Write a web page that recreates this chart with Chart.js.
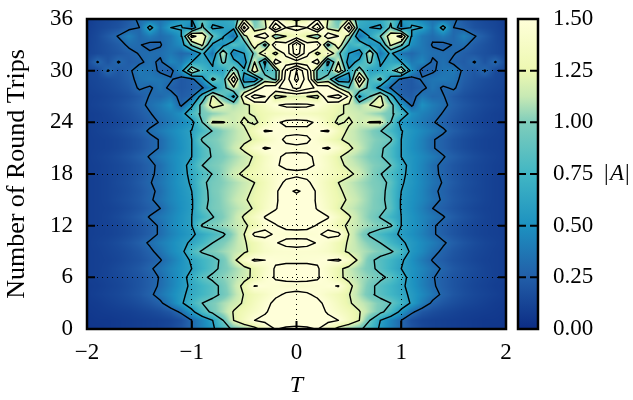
<!DOCTYPE html>
<html><head><meta charset="utf-8">
<style>html,body{margin:0;padding:0;background:#fff}canvas{position:absolute;top:0}</style>
<script src="https://cdn.jsdelivr.net/npm/chart.js@4/dist/chart.umd.min.js"></script>
</head><body>
<canvas id="heat" width="520" height="400" style="left:0"></canvas>
<canvas id="bar" width="123" height="400" style="left:510px"></canvas>
<script>
const tColumns=[0,.1,.2,.3,.4,.5,.6,.7,.8,.9,1,1.1,1.2,1.3,1.4,1.5,1.6,1.7,1.8,1.9,2];
const tripRows=[0,1,2,3,4,5,6,7,8,9,10,11,12,13,14,15,16,17,18,19,20,21,22,23,24,25,26,27,28,29,30,31,32,33,34,35,36];
// |A| x 100, one row per round trip, columns for |T| = 0 ... 2
const ampCenti=[
[145,147,151,135,112,103,95,78,56,42,30,20,14,11,10,9,8,7,6,5,5],
[160,160,158,155,150,135,120,90,60,44,30,18,13,11,10,9,8,7,6,6,5],
[165,163,157,148,139,130,121,108,96,78,54,33,22,17,14,12,10,9,8,7,6],
[165,160,154,145,134,122,114,107,98,90,74,57,41,27,21,17,14,12,10,8,7],
[155,152,147,138,130,121,108,94,84,75,66,56,46,36,27,21,17,14,12,10,8],
[142,143,145,147,151,125,110,96,83,74,64,53,42,32,25,20,16,13,11,9,8],
[158,156,152,143,124,115,108,102,95,85,68,52,42,31,25,20,17,14,12,10,9],
[158,156,152,139,125,113,105,96,84,72,60,52,44,35,28,22,18,15,12,10,9],
[145,146,147,150,153,140,114,95,83,74,63,50,39,29,24,19,16,13,11,10,9],
[144,144,143,139,128,116,111,105,99,93,78,54,46,35,27,21,17,14,12,10,9],
[156,154,149,141,128,118,108,99,90,75,63,55,47,40,32,25,20,16,13,11,9],
[144,145,147,156,156,120,104,87,77,66,57,50,42,32,25,20,16,13,11,10,9],
[156,154,149,144,126,117,111,105,99,93,60,52,44,32,25,20,16,13,11,10,9],
[160,158,155,151,136,122,110,100,89,74,60,52,44,37,31,24,19,15,12,10,9],
[160,157,149,137,122,114,108,102,96,85,58,50,41,30,25,20,16,13,11,10,9],
[165,160,147,135,125,118,111,103,95,83,58,51,44,35,28,22,18,15,12,10,9],
[184,172,144,133,123,115,109,103,97,82,60,52,44,33,27,21,17,14,12,10,9],
[158,153,143,131,120,113,107,101,96,86,62,54,45,36,29,23,18,15,12,10,9],
[146,145,143,137,131,124,115,104,91,79,65,53,44,34,27,21,17,14,12,10,9],
[156,154,148,138,125,116,110,103,97,90,67,53,44,33,27,21,17,14,12,10,9],
[155,153,147,136,122,113,106,99,92,80,60,53,46,39,31,25,20,16,13,11,9],
[145,146,148,152,142,124,113,103,94,80,60,50,42,31,26,20,16,13,11,10,9],
[158,153,144,133,122,116,110,104,98,93,60,51,42,31,26,20,16,13,11,10,9],
[144,146,149,152,132,116,109,102,91,76,61,53,46,39,32,25,20,16,13,11,9],
[156,154,147,129,116,123,114,121,122,90,52,45,38,31,26,20,16,13,11,10,9],
[135,135,132,128,122,118,114,108,102,95,78,50,42,36,29,23,18,15,12,10,9],
[155,154,148,135,125,115,108,120,128,100,55,27,50,40,33,26,21,17,14,12,10],
[120,120,112,180,195,145,55,90,125,72,28,24,38,30,31,23,18,15,13,11,10],
[220,190,175,165,120,90,115,80,50,28,25,22,26,36,28,32,22,18,15,13,11],
[250,195,85,105,40,45,170,75,95,50,25,22,32,36,38,35,25,20,17,14,12],
[240,185,85,75,140,65,105,60,62,80,115,50,24,28,35,38,27,22,31,15,13],
[135,130,170,50,120,45,70,95,58,65,60,38,45,27,34,27,24,31,20,31,14],
[230,160,110,150,95,60,40,115,35,65,35,30,38,33,32,31,25,21,18,15,12],
[240,160,180,80,140,70,85,50,55,125,95,48,38,29,26,31,33,24,19,15,11],
[130,120,95,175,150,110,32,62,90,135,160,55,38,32,40,30,42,31,23,15,10],
[160,150,210,110,100,190,65,60,55,95,40,62,60,38,68,30,26,19,16,13,9],
[110,130,150,120,90,120,70,65,70,85,60,55,42,35,32,34,22,17,14,12,8]];
const contourLevels=[.3,.6,.9,1.2,1.5,1.8,2.1,2.4];
const barStops=[0,.25,.5,.75,1,1.125,1.25,1.5];
const barColors=['#0c2c84','#225ea8','#1d91c0','#41b6c4','#7fcdbb','#c7e9b4','#edf8b1','#ffffd9'];
const xTicks=[-2,-1,0,1,2],yTicks=[0,6,12,18,24,30,36],barTicks=[0,.25,.5,.75,1,1.25,1.5];
const FONT='"Liberation Serif",serif';

const rgb=barColors.map(h=>[1,3,5].map(i=>parseInt(h.substr(i,2),16)));
function colorOf(v){v=Math.max(0,Math.min(1.5,v));let i=0;while(i<barStops.length-2&&v>barStops[i+1])i++;
 const f=(v-barStops[i])/(barStops[i+1]-barStops[i]);return [0,1,2].map(k=>rgb[i][k]+(rgb[i+1][k]-rgb[i][k])*f);}
const fullT=[...tColumns.slice(1).reverse().map(t=>-t),...tColumns];
const grid=ampCenti.map(r=>[...r.slice(1).reverse(),...r].map(v=>v/100));
const cells=[];tripRows.forEach((n,j)=>fullT.forEach((t,i)=>cells.push({x:t,y:n,v:grid[j][i]})));

function contour(level){const out=[];const gap={x:NaN,y:NaN};
 for(let j=0;j<tripRows.length-1;j++)for(let i=0;i<fullT.length-1;i++){
  const x0=fullT[i],x1=fullT[i+1],y0=tripRows[j],y1=tripRows[j+1];
  const a=grid[j][i],b=grid[j][i+1],c=grid[j+1][i+1],d=grid[j+1][i];
  const e=[];
  if((a<level)!==(b<level))e.push({x:x0+(level-a)/(b-a)*(x1-x0),y:y0});
  if((b<level)!==(c<level))e.push({x:x1,y:y0+(level-b)/(c-b)*(y1-y0)});
  if((c<level)!==(d<level))e.push({x:x0+(level-d)/(c-d)*(x1-x0),y:y1});
  if((d<level)!==(a<level))e.push({x:x0,y:y0+(level-a)/(d-a)*(y1-y0)});
  if(e.length===2)out.push(e[0],e[1],gap);
  else if(e.length===4){const m=(a+b+c+d)/4;
   if((m<level)===(a<level))out.push(e[0],e[1],gap,e[2],e[3],gap);
   else out.push(e[0],e[3],gap,e[1],e[2],gap);}
 }return out;}

function frame(ctx,a,xs,ys,len){ctx.save();ctx.strokeStyle='#000';ctx.lineWidth=2;
 ctx.beginPath();xs.forEach(p=>{ctx.moveTo(p,a.bottom);ctx.lineTo(p,a.bottom-len);ctx.moveTo(p,a.top);ctx.lineTo(p,a.top+len);});
 ys.forEach(p=>{ctx.moveTo(a.left,p);ctx.lineTo(a.left+len,p);ctx.moveTo(a.right,p);ctx.lineTo(a.right-len,p);});
 ctx.stroke();ctx.lineWidth=2.5;ctx.strokeRect(a.left,a.top,a.right-a.left,a.bottom-a.top);ctx.restore();}

const heatPlugin={id:'heatSmooth',
 afterDatasetDraw(ch,args){if(args.index!==0)return;
  const a=ch.chartArea,X=ch.scales.x,Y=ch.scales.y,w=Math.round(a.right-a.left),h=Math.round(a.bottom-a.top);
  const off=document.createElement('canvas');off.width=w;off.height=h;const o=off.getContext('2d');const im=o.createImageData(w,h);
  const dT=fullT[1]-fullT[0],dN=tripRows[1]-tripRows[0];
  for(let py=0;py<h;py++){const n=Y.getValueForPixel(a.top+py+.5);let j=Math.min(tripRows.length-2,Math.max(0,Math.floor(n/dN)));const fy=n/dN-j;
   for(let px=0;px<w;px++){const t=X.getValueForPixel(a.left+px+.5);const u=(t-fullT[0])/dT;let i=Math.min(fullT.length-2,Math.max(0,Math.floor(u)));const fx=u-i;
    const v=(grid[j][i]*(1-fx)+grid[j][i+1]*fx)*(1-fy)+(grid[j+1][i]*(1-fx)+grid[j+1][i+1]*fx)*fy;
    const c=colorOf(v),k=(py*w+px)*4;im.data[k]=c[0];im.data[k+1]=c[1];im.data[k+2]=c[2];im.data[k+3]=255;}}
  o.putImageData(im,0,0);ch.ctx.drawImage(off,a.left,a.top);},
 afterDraw(ch){frame(ch.ctx,ch.chartArea,xTicks.map(v=>ch.scales.x.getPixelForValue(v)),yTicks.map(v=>ch.scales.y.getPixelForValue(v)),8);}};

const tickFont={family:FONT,size:23};
new Chart(document.getElementById('heat'),{type:'scatter',plugins:[heatPlugin],
 data:{datasets:[
  {label:'|A|',data:cells,order:20,pointStyle:'rect',pointRadius:9,borderWidth:0,
   backgroundColor:c=>{const p=c.raw;if(!p)return '#000';const k=colorOf(p.v);return `rgb(${k[0]|0},${k[1]|0},${k[2]|0})`;}},
  ...contourLevels.map(l=>({label:'contour '+l,data:contour(l),showLine:true,spanGaps:false,pointRadius:0,borderColor:'#000',borderWidth:1.4,borderCapStyle:'round',order:1}))]},
 options:{responsive:false,animation:false,layout:{padding:{top:19,right:14,left:0,bottom:0}},
  plugins:{legend:{display:false},tooltip:{enabled:false}},events:[],
  scales:{
   x:{type:'linear',min:-2,max:2,afterFit(s){s.height=71;s.paddingLeft=0;s.paddingRight=0;},afterBuildTicks(s){s.ticks=xTicks.map(value=>({value}));},
    grid:{z:1,color:c=>Math.abs(c.tick.value)===2?'transparent':'#000',lineWidth:1,drawTicks:false},border:{display:false,dash:[1,4]},
    ticks:{padding:10,color:'#000',font:tickFont,maxRotation:0,callback:v=>v<0?'\u2212'+(-v):''+v},
    title:{display:true,text:'T',color:'#000',font:{family:FONT,size:24,style:'italic'},padding:{top:0,bottom:0}}},
   y:{type:'linear',min:0,max:36,afterFit(s){s.width=87;s.paddingTop=0;s.paddingBottom=0;},afterBuildTicks(s){s.ticks=yTicks.map(value=>({value}));},
    grid:{z:1,color:c=>(c.tick.value===0||c.tick.value===36)?'transparent':'#000',lineWidth:1,drawTicks:false},border:{display:false,dash:[1,4]},
    ticks:{padding:14,color:'#000',font:tickFont},
    title:{display:true,text:'Number of Round Trips',color:'#000',font:{family:FONT,size:26},padding:{top:2,bottom:0}}}}}});

const barPlugin={id:'barFrame',
 afterDraw(ch){const a=ch.chartArea,ctx=ch.ctx;frame(ctx,a,[],barTicks.slice(1,-1).map(v=>ch.scales.y.getPixelForValue(v)),8);
  ctx.save();ctx.fillStyle='#000';ctx.textBaseline='middle';const y=ch.scales.y.getPixelForValue(.75);
  ctx.font='23px '+FONT;ctx.fillText('|',94,y);ctx.font='italic 23px '+FONT;ctx.fillText('A',100,y);ctx.font='23px '+FONT;ctx.fillText('|',115,y);ctx.restore();}};
new Chart(document.getElementById('bar'),{type:'bar',plugins:[barPlugin],
 data:{labels:['|A|'],datasets:[{data:[1.5],barPercentage:1,categoryPercentage:1,borderWidth:0,
  backgroundColor:c=>{const a=c.chart.chartArea;if(!a)return barColors[0];const g=c.chart.ctx.createLinearGradient(0,a.bottom,0,a.top);barStops.forEach((s,i)=>g.addColorStop(s/1.5,barColors[i]));return g;}}]},
 options:{responsive:false,animation:false,layout:{padding:{top:19,left:8,right:0,bottom:71}},
  plugins:{legend:{display:false},tooltip:{enabled:false}},events:[],
  scales:{x:{display:false},
   y:{position:'right',min:0,max:1.5,afterFit(s){s.width=95;s.paddingTop=0;s.paddingBottom=0;},afterBuildTicks(s){s.ticks=barTicks.map(value=>({value}));},
    grid:{display:false,drawTicks:false},border:{display:false},
    ticks:{padding:15,color:'#000',font:tickFont,callback:v=>v.toFixed(2)}}}}});
</script></body></html>
